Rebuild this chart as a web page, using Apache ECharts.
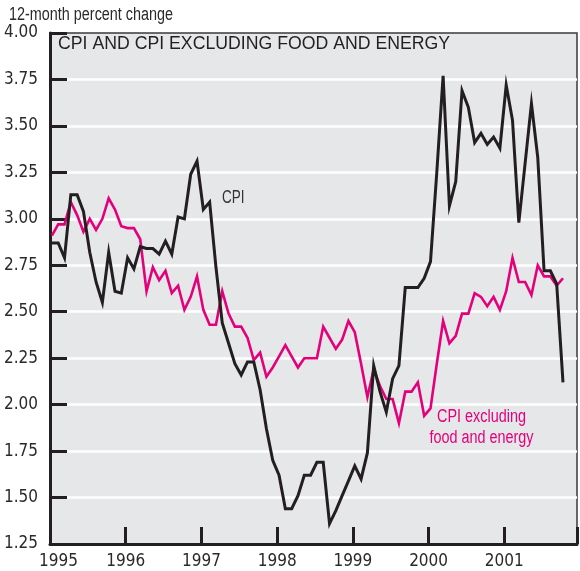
<!DOCTYPE html>
<html>
<head>
<meta charset="utf-8">
<script src="https://cdn.jsdelivr.net/npm/echarts@6/dist/echarts.min.js"></script>
<style>
html, body { margin: 0; padding: 0; background: #fff; }
#chart { width: 580px; height: 571px; }
</style>
</head>
<body>
<div id="chart"></div>
<script>
// 12-month percent change, monthly from Jan 1995 to Oct 2001
const startYear = 1995
const cpi = [
  2.87, 2.87, 2.79, 3.13, 3.13, 3.04, 2.82, 2.66, 2.55, 2.82, 2.61, 2.60,
  2.79, 2.73, 2.85, 2.84, 2.84, 2.81, 2.88, 2.81, 3.01, 3.00, 3.24, 3.31,
  3.05, 3.09, 2.74, 2.44, 2.33, 2.22, 2.16, 2.23, 2.23, 2.08, 1.87, 1.70,
  1.62, 1.44, 1.44, 1.51, 1.62, 1.62, 1.69, 1.69, 1.36, 1.43, 1.51, 1.59,
  1.67, 1.60, 1.74, 2.21, 2.07, 1.96, 2.14, 2.21, 2.63, 2.63, 2.63, 2.68,
  2.77, 3.25, 3.77, 3.07, 3.20, 3.69, 3.60, 3.41, 3.46, 3.40, 3.44, 3.38,
  3.72, 3.53, 2.98, 3.30, 3.62, 3.33, 2.72, 2.72, 2.65, 2.12
]
const cpiCore = [
  2.91, 2.97, 2.97, 3.09, 3.02, 2.93, 3.00, 2.94, 3.00, 3.11, 3.05, 2.96,
  2.95, 2.95, 2.89, 2.61, 2.74, 2.67, 2.72, 2.60, 2.64, 2.51, 2.58, 2.69,
  2.51, 2.43, 2.43, 2.61, 2.49, 2.42, 2.42, 2.36, 2.24, 2.28, 2.15, 2.20,
  2.26, 2.32, 2.26, 2.20, 2.25, 2.25, 2.25, 2.42, 2.36, 2.30, 2.35, 2.45,
  2.39, 2.22, 2.04, 2.19, 2.10, 2.03, 2.03, 1.90, 2.07, 2.07, 2.12, 1.94,
  1.98, 2.22, 2.45, 2.33, 2.37, 2.49, 2.49, 2.60, 2.58, 2.53, 2.58, 2.51,
  2.61, 2.79, 2.66, 2.66, 2.59, 2.75, 2.69, 2.69, 2.64, 2.68
]
const yearLabels = [1995, 1996, 1997, 1998, 1999, 2000, 2001]

const ink = '#231f20'
const pink = '#e4007c'
const narrow = '"Liberation Sans Narrow", "DejaVu Sans Condensed", "Liberation Sans", sans-serif'
const plain = '"Liberation Sans", Arial, sans-serif'

// each month is plotted just after the start of the month
const toPoints = arr => arr.map((v, i) => [startYear + (i + 0.3) / 12, v])

let myChart = echarts.init(document.getElementById('chart'))
let option = {
  animation: false,
  backgroundColor: '#fff',
  grid: {
    left: 50,
    top: 33,
    width: 528,
    height: 511,
    show: true,
    backgroundColor: '#e6e7e8',
    borderColor: '#3a3a3a',
    borderWidth: 1.5
  },
  xAxis: {
    type: 'value',
    min: 1995,
    max: 2001.96,
    interval: 1,
    axisLine: { lineStyle: { color: ink, width: 3 } },
    axisTick: { inside: true, length: 17, lineStyle: { color: ink, width: 3 } },
    axisLabel: {
      margin: 9,
      fontSize: 17,
      color: '#2a2a2a',
      fontFamily: narrow,
      formatter: v => {
        if (yearLabels.indexOf(v) < 0) return ''
        return v === yearLabels[0] ? '{first|' + v + '}' : String(v)
      },
      rich: {
        first: { fontSize: 17, color: '#2a2a2a', fontFamily: narrow, padding: [0, 0, 0, 17] }
      }
    },
    splitLine: { show: false }
  },
  yAxis: {
    type: 'value',
    min: 1.25,
    max: 4,
    interval: 0.25,
    axisLine: { show: true, lineStyle: { color: ink, width: 3 } },
    axisTick: { show: true, inside: true, length: 17, lineStyle: { color: ink, width: 3 } },
    axisLabel: {
      margin: 12,
      fontSize: 17,
      color: '#2a2a2a',
      fontFamily: narrow,
      formatter: v => v.toFixed(2)
    },
    splitLine: {
      show: true,
      showMinLine: false,
      showMaxLine: false,
      lineStyle: { color: '#fff', width: 2.5 }
    }
  },
  graphic: [
    {
      type: 'text', x: 9, y: 6, scaleX: 0.8,
      style: { text: '12-month percent change', fontSize: 18, fontFamily: plain, fill: '#2a2a2a', textVerticalAlign: 'top' }
    },
    {
      type: 'text', x: 58, y: 35,
      style: { text: 'CPI AND CPI EXCLUDING FOOD AND ENERGY', fontSize: 17.7, fontFamily: plain, fill: ink, textVerticalAlign: 'top' }
    },
    {
      type: 'text', x: 222, y: 189.5, scaleX: 0.75,
      style: { text: 'CPI', fontSize: 18, fontFamily: plain, fill: '#333', textVerticalAlign: 'top' }
    },
    {
      type: 'text', x: 481.5, y: 407, scaleX: 0.8,
      style: {
        text: 'CPI excluding\nfood and energy', fontSize: 18, lineHeight: 20.5, fontFamily: plain,
        fill: pink, textAlign: 'center', textVerticalAlign: 'top'
      }
    }
  ],
  series: [
    {
      name: 'CPI excluding food and energy',
      type: 'line',
      data: toPoints(cpiCore),
      symbol: 'none',
      lineStyle: { color: pink, width: 2.6, join: 'miter' },
      z: 3
    },
    {
      name: 'CPI',
      type: 'line',
      data: toPoints(cpi),
      symbol: 'none',
      lineStyle: { color: ink, width: 3, join: 'miter' },
      z: 4
    }
  ]
}
myChart.setOption(option)
</script>
</body>
</html>
